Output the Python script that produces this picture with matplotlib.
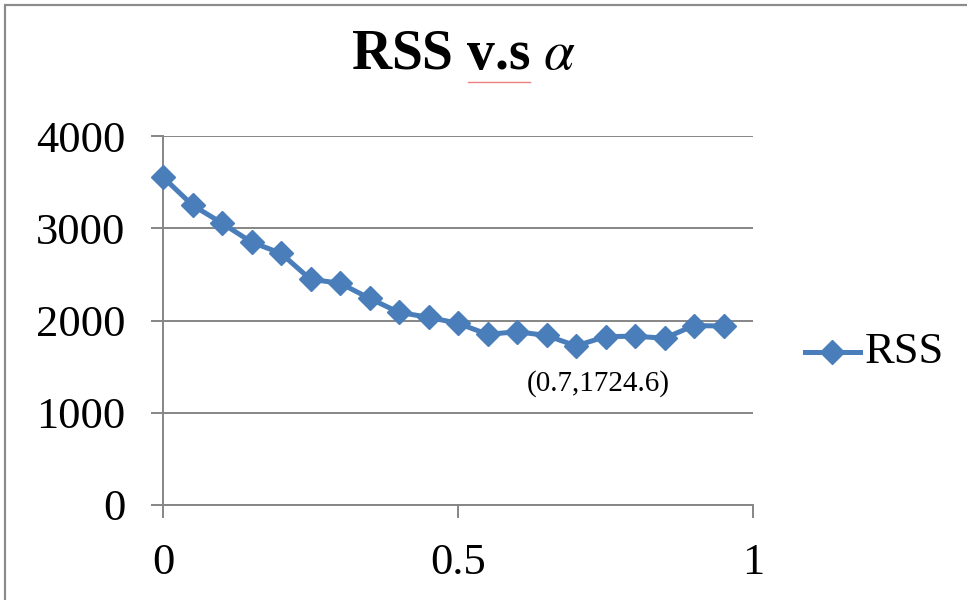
import numpy as np
import matplotlib.pyplot as plt
from matplotlib.lines import Line2D
from matplotlib.patches import Rectangle

plt.rcParams['font.family'] = ['Liberation Serif', 'DejaVu Serif']
plt.rcParams['mathtext.fontset'] = 'stix'

alpha = [0.0, 0.05, 0.1, 0.15, 0.2, 0.25, 0.3, 0.35, 0.4, 0.45,
         0.5, 0.55, 0.6, 0.65, 0.7, 0.75, 0.8, 0.85, 0.9, 0.95]
rss = [3554, 3250, 3055, 2850, 2728, 2446, 2405, 2240, 2088, 2035,
       1970, 1850, 1878, 1838, 1724.6, 1825, 1830, 1808, 1945, 1940]
best_idx = int(np.argmin(rss))

BLUE = '#4A7EBB'
GRAY = '#868686'

fig = plt.figure(figsize=(9.67, 6.0), dpi=100)
ax = fig.add_axes([163 / 967, 1 - 505 / 600, 590 / 967, 369 / 600])

ax.plot(alpha, rss, color=BLUE, lw=3.6, marker='D', ms=12,
        markeredgecolor=BLUE, markerfacecolor=BLUE, zorder=3, clip_on=False)

ax.set_xlim(0, 1)
ax.set_ylim(0, 4000)
ax.set_xticks([0, 0.5, 1])
ax.set_xticklabels(['0', '0.5', '1'])
ax.set_yticks([0, 1000, 2000, 3000, 4000])
ax.grid(axis='y', color=GRAY, lw=1.4)
ax.set_axisbelow(True)
for side in ('top', 'right'):
    ax.spines[side].set_visible(False)
for side in ('left', 'bottom'):
    ax.spines[side].set_color(GRAY)
    ax.spines[side].set_linewidth(1.4)
ax.tick_params(axis='both', colors=GRAY, labelcolor='black', labelsize=32,
               length=9, width=1.4)
ax.tick_params(axis='y', pad=18)
ax.tick_params(axis='x', pad=18)

# label the minimum
ax.annotate(f'({alpha[best_idx]},{rss[best_idx]})',
            xy=(alpha[best_idx], rss[best_idx]), xytext=(16, -27),
            textcoords='offset points', ha='center', va='center',
            fontsize=21)

fig.text(464 / 967, 1 - 55 / 600, r'RSS v.s $\alpha$', ha='center',
         va='center', fontsize=40, fontweight='bold')
fig.add_artist(Line2D([468 / 967, 530 / 967], [1 - 82 / 600, 1 - 82 / 600],
                      color='#f08080', lw=1.0))

# legend
leg_y = 1 - 352 / 600
fig.add_artist(Line2D([805 / 967, 860 / 967], [leg_y, leg_y], color=BLUE,
                      lw=3.6))
fig.add_artist(Line2D([832 / 967], [leg_y], color=BLUE, marker='D', ms=12))
fig.text(865 / 967, leg_y, 'RSS', ha='left', va='center', fontsize=32)

# chart area border
fig.add_artist(Rectangle((5 / 967, -0.05), 1.1, 1 - 5 / 600 + 0.05,
                         transform=fig.transFigure, fill=False,
                         edgecolor='#8c8c8c', lw=1.6))

fig.savefig('out.png', dpi=100)
